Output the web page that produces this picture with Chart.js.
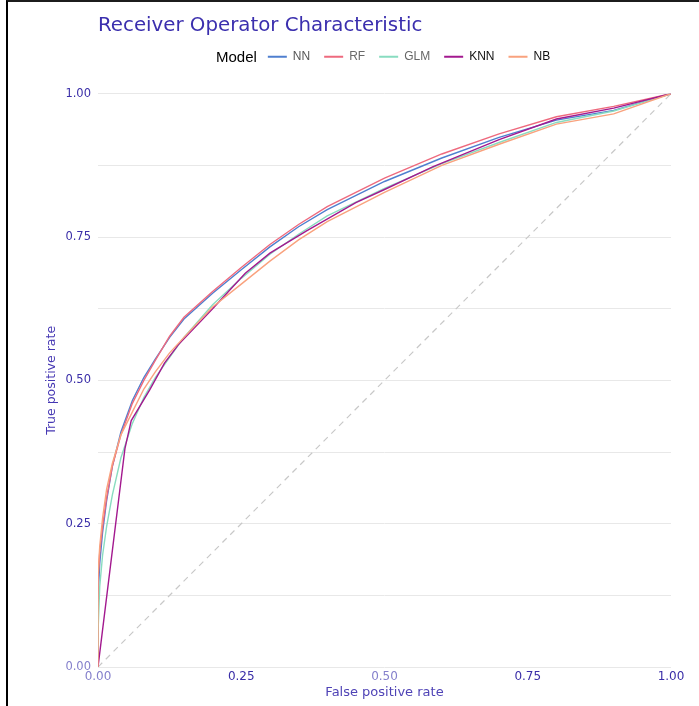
<!DOCTYPE html>
<html>
<head>
<meta charset="utf-8">
<title>Receiver Operator Characteristic</title>
<script src="https://cdn.jsdelivr.net/npm/chart.js@4.4.1/dist/chart.umd.min.js"></script>
<style>
  html, body { margin: 0; padding: 0; background: #fff; }
  #frame {
    position: absolute; left: 6px; top: 0;
    width: 691px; height: 704px;
    border-left: 2px solid #000; border-top: 2px solid #1c1c1c;
  }
  canvas { display: block; }
</style>
</head>
<body>
<div id="frame"><canvas id="roc" width="691" height="704"></canvas></div>
<script>
// ROC curves
const models = ["NN", "RF", "GLM", "KNN", "NB"];
const modelColors = ["#4f7fcf", "#ee6a7e", "#88dcc0", "#a3198f", "#f9a27e"];
const legendTextColors = ["#555555", "#6a6a6a", "#666666", "#111111", "#111111"];

// false positive rate grid shared by NN, RF, GLM and NB
const fprGrid = [0, 0, 0.003, 0.008, 0.015, 0.025, 0.04, 0.06, 0.08, 0.1, 0.125, 0.15,
  0.2, 0.25, 0.3, 0.35, 0.4, 0.5, 0.6, 0.7, 0.8, 0.9, 1];
const nnTpr = [0, 0.12, 0.18, 0.235, 0.29, 0.35, 0.41, 0.465, 0.505, 0.537, 0.575, 0.607,
  0.652, 0.693, 0.733, 0.768, 0.798, 0.847, 0.888, 0.924, 0.954, 0.971, 1];
const rfTpr = [0, 0.15, 0.2, 0.245, 0.295, 0.35, 0.405, 0.46, 0.5, 0.535, 0.577, 0.61,
  0.655, 0.697, 0.737, 0.772, 0.803, 0.853, 0.895, 0.93, 0.96, 0.978, 1];
const glmTpr = [0, 0.06, 0.14, 0.195, 0.245, 0.3, 0.365, 0.425, 0.47, 0.505, 0.54, 0.575,
  0.632, 0.678, 0.72, 0.755, 0.787, 0.835, 0.878, 0.915, 0.95, 0.97, 1];
const nbTpr = [0, 0.16, 0.21, 0.26, 0.31, 0.355, 0.405, 0.445, 0.485, 0.515, 0.548, 0.575,
  0.628, 0.668, 0.708, 0.745, 0.777, 0.828, 0.875, 0.912, 0.947, 0.965, 1];
// KNN has only a few thresholds at the start, so it gets its own points
const knnFpr = [0, 0.047, 0.058, 0.09, 0.116, 0.14, 0.2, 0.257, 0.3, 0.364, 0.45, 0.5,
  0.585, 0.7, 0.8, 0.9, 1];
const knnTpr = [0, 0.381, 0.43, 0.483, 0.53, 0.562, 0.625, 0.687, 0.722, 0.761, 0.81, 0.833,
  0.873, 0.92, 0.956, 0.975, 1];
const chanceLine = [0, 1];

const axisFont = "'DejaVu Sans', sans-serif";
const legendFont = "'Liberation Sans', Arial, sans-serif";
const tickDark = "#3a2ea8";
const tickLight = "#8580cc";

function toPoints(xs, ys) {
  return xs.map((x, i) => ({ x: x, y: ys[i] }));
}

const seriesTpr = [nnTpr, rfTpr, glmTpr, knnTpr, nbTpr];

const datasets = models.map((name, i) => ({
  label: name,
  data: name === "KNN" ? toPoints(knnFpr, knnTpr) : toPoints(fprGrid, seriesTpr[i]),
  borderColor: modelColors[i],
  backgroundColor: modelColors[i],
  borderWidth: 1.4,
  pointRadius: 0,
  tension: 0,
  order: models.length - i   // NB ends up on top, like ggplot
}));

datasets.push({
  label: "chance",
  data: toPoints(chanceLine, chanceLine),
  borderColor: "#c8c8c8",
  borderWidth: 1.2,
  borderDash: [6, 5],
  pointRadius: 0,
  order: 20
});

function tickLabel(value) {
  return Math.abs(value * 4 - Math.round(value * 4)) < 1e-9 ? value.toFixed(2) : "";
}

// draws the "Model" heading in front of the legend keys
const modelHeading = {
  id: "modelHeading",
  afterDraw(chart) {
    const boxes = chart.legend && chart.legend.legendHitBoxes;
    if (!boxes || boxes.length < 2) return;
    const b = boxes[1];
    const ctx = chart.ctx;
    ctx.save();
    ctx.font = "15px " + legendFont;
    ctx.fillStyle = "#000";
    ctx.textAlign = "right";
    ctx.textBaseline = "middle";
    ctx.fillText("Model", b.left - 11, b.top + b.height / 2 + 1);
    ctx.restore();
  }
};

new Chart(document.getElementById("roc"), {
  type: "line",
  data: { datasets: datasets },
  plugins: [modelHeading],
  options: {
    responsive: false,
    animation: false,
    layout: { padding: { top: 0, right: 28, bottom: 0, left: 0 } },
    plugins: {
      tooltip: { enabled: false },
      title: {
        display: true,
        fullSize: false,
        align: "start",
        text: "Receiver Operator Characteristic",
        color: "#3b2fae",
        font: { family: axisFont, size: 19.8, weight: "normal", lineHeight: 1.1 },
        padding: { top: 13, bottom: 0 }
      },
      legend: {
        display: true,
        fullSize: false,
        position: "top",
        align: "center",
        labels: {
          boxWidth: 19,
          boxHeight: 2,
          padding: 14,
          font: { family: legendFont, size: 12 },
          generateLabels: () => {
            // invisible first key keeps room for the "Model" heading
            const items = [{
              text: "M", fillStyle: "rgba(0,0,0,0)", strokeStyle: "rgba(0,0,0,0)",
              lineWidth: 0, fontColor: "rgba(0,0,0,0)", hidden: false, datasetIndex: -1
            }];
            models.forEach((m, i) => items.push({
              text: m, fillStyle: modelColors[i], strokeStyle: modelColors[i],
              lineWidth: 0, fontColor: legendTextColors[i], hidden: false, datasetIndex: i
            }));
            return items;
          }
        },
        onClick: () => {}
      }
    },
    scales: {
      x: {
        type: "linear",
        min: 0,
        max: 1,
        afterFit: (scale) => { scale.height = 39; },
        border: { display: false },
        grid: { display: false, drawTicks: false },
        ticks: {
          stepSize: 0.25,
          padding: 3,
          autoSkip: false,
          maxRotation: 0,
          font: { family: axisFont, size: 12 },
          color: (c) => (c.tick && (c.tick.value === 0 || c.tick.value === 0.5) ? tickLight : tickDark),
          callback: tickLabel
        },
        title: {
          display: true,
          text: "False positive rate",
          color: "#4f43b6",
          font: { family: axisFont, size: 13 },
          padding: { top: 0, bottom: 6 }
        }
      },
      xTop: {
        type: "linear",
        position: "top",
        display: true,
        afterFit: (scale) => { scale.height = 21; },
        border: { display: false },
        grid: { display: false, drawTicks: false },
        ticks: { display: false }
      },
      y: {
        min: 0,
        max: 1,
        afterFit: (scale) => { scale.width = 90; },
        border: { display: false },
        grid: { color: "#e8e8e8", lineWidth: 1, drawTicks: false },
        ticks: {
          stepSize: 0.125,
          padding: 7,
          autoSkip: false,
          font: { family: axisFont, size: 11.5 },
          color: (c) => (c.tick && c.tick.value === 0 ? tickLight : tickDark),
          callback: tickLabel
        },
        title: {
          display: true,
          text: "True positive rate",
          color: "#4537b3",
          font: { family: axisFont, size: 12.5 },
          padding: { top: 36, bottom: 0 }
        }
      }
    }
  }
});
</script>
</body>
</html>
